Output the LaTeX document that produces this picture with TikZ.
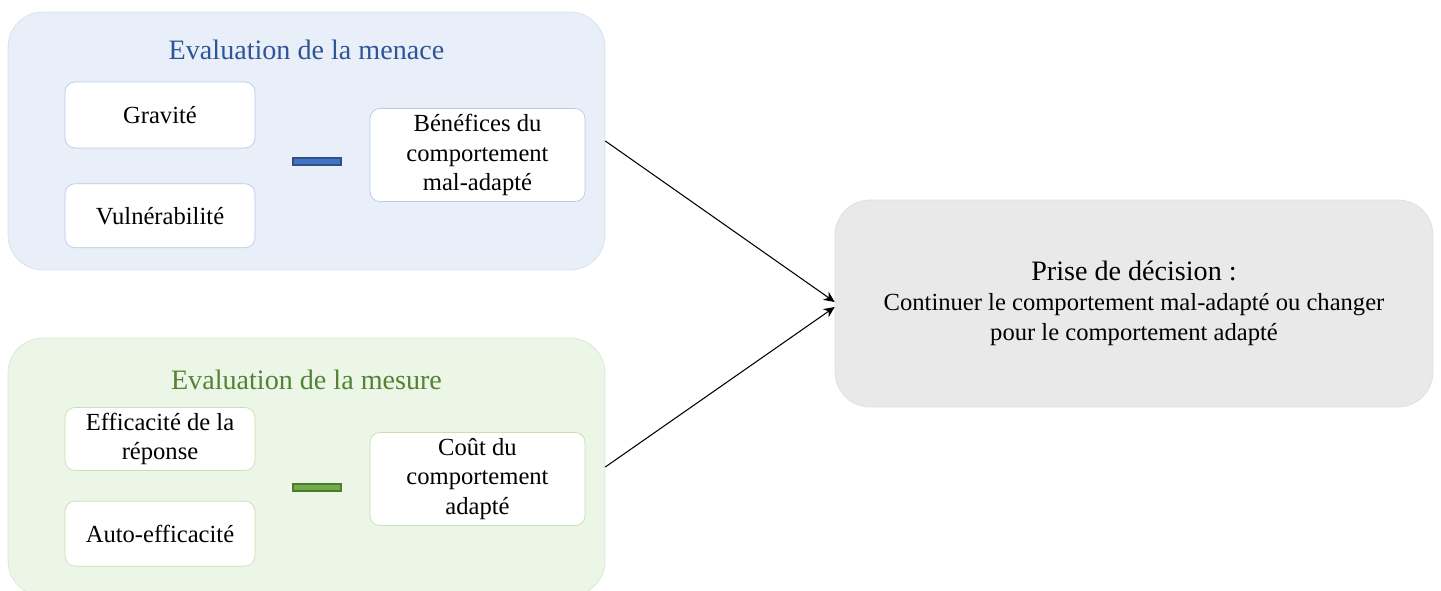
\documentclass[tikz,border=0pt]{standalone}
\usepackage{fontspec}
\setmainfont{Liberation Serif}
\usetikzlibrary{arrows.meta,positioning}
\definecolor{menacefill}{HTML}{E8EFF9}
\definecolor{menaceline}{HTML}{D5DFEF}
\definecolor{menaceitem}{HTML}{B9CAE6}
\definecolor{menacetext}{HTML}{2F5597}
\definecolor{menacebar}{HTML}{4472C4}
\definecolor{mesurefill}{HTML}{EBF6E6}
\definecolor{mesureline}{HTML}{D8E8D0}
\definecolor{mesureitem}{HTML}{C8DFB8}
\definecolor{mesuretext}{HTML}{548235}
\definecolor{mesurebar}{HTML}{70AD47}
\definecolor{decisionfill}{HTML}{E9E9E9}
\definecolor{decisionline}{HTML}{DEDEDE}
\tikzset{
group/.style = {rounded corners=0.7cm, minimum width=11.94cm, minimum height=5.16cm},
grouptitle/.style = {font=\fontsize{16}{19}\selectfont},
item/.style = {draw, fill=white, rounded corners=0.2cm, align=center, inner sep=2pt, font=\fontsize{14}{17}\selectfont},
minus/.style = {draw, line width=0.6pt, minimum width=0.96cm, minimum height=0.14cm, inner sep=0pt},
decision/.style = {draw=decisionline, fill=decisionfill, rounded corners=0.7cm, align=center, minimum width=11.96cm, minimum height=4.14cm, font=\fontsize{14}{17}\selectfont}
}
\begin{document}
\begin{tikzpicture}[x=0.02cm, y=-0.02cm, >={Stealth[length=2.2mm,width=2mm]}]
    \useasboundingbox (0,0) rectangle (1441,591);
    % threat appraisal
    \node [group, fill=menacefill, draw=menaceline] (menace) at (306.5,141) {};
    \node [grouptitle, text=menacetext] (tmenace) at (306.5,50) {Evaluation de la menace};
    \node [item, draw=menaceitem, minimum width=3.8cm, minimum height=1.32cm] (gravite) at (160,115) {Gravité};
    \node [item, draw=menaceitem, minimum width=3.8cm, minimum height=1.28cm, below=0.7cm of gravite] (vulner) {Vulnérabilité};
    \node [minus, fill=menacebar, draw=menacebar!70!black] (moins1) at (317,161.5) {};
    \node [item, draw=menaceitem, minimum width=4.3cm, minimum height=1.86cm] (benef) at (477.5,155) {Bénéfices du\\comportement\\mal-adapté};
    % coping appraisal
    \node [group, fill=mesurefill, draw=mesureline] (mesure) at (306.5,467) {};
    \node [grouptitle, text=mesuretext] (tmesure) at (306.5,380) {Evaluation de la mesure};
    \node [item, draw=mesureitem, minimum width=3.8cm, minimum height=1.26cm] (efficac) at (160,439) {Efficacité de la\\réponse};
    \node [item, draw=mesureitem, minimum width=3.8cm, minimum height=1.3cm, below=0.6cm of efficac] (autoeff) {Auto-efficacité};
    \node [minus, fill=mesurebar, draw=mesurebar!70!black] (moins2) at (317,487.5) {};
    \node [item, draw=mesureitem, minimum width=4.3cm, minimum height=1.86cm] (cout) at (477.5,479) {Coût du\\comportement\\adapté};
    % decision
    \node [decision] (decision) at (1134,303.5) {{\fontsize{16}{19}\selectfont Prise de décision :}\\Continuer le comportement mal-adapté ou changer\\pour le comportement adapté};
    \draw [->, line width=0.6pt] (menace.east) -- ([yshift=0.03cm]decision.west);
    \draw [->, line width=0.6pt] (mesure.east) -- ([yshift=-0.07cm]decision.west);
\end{tikzpicture}
\end{document}
